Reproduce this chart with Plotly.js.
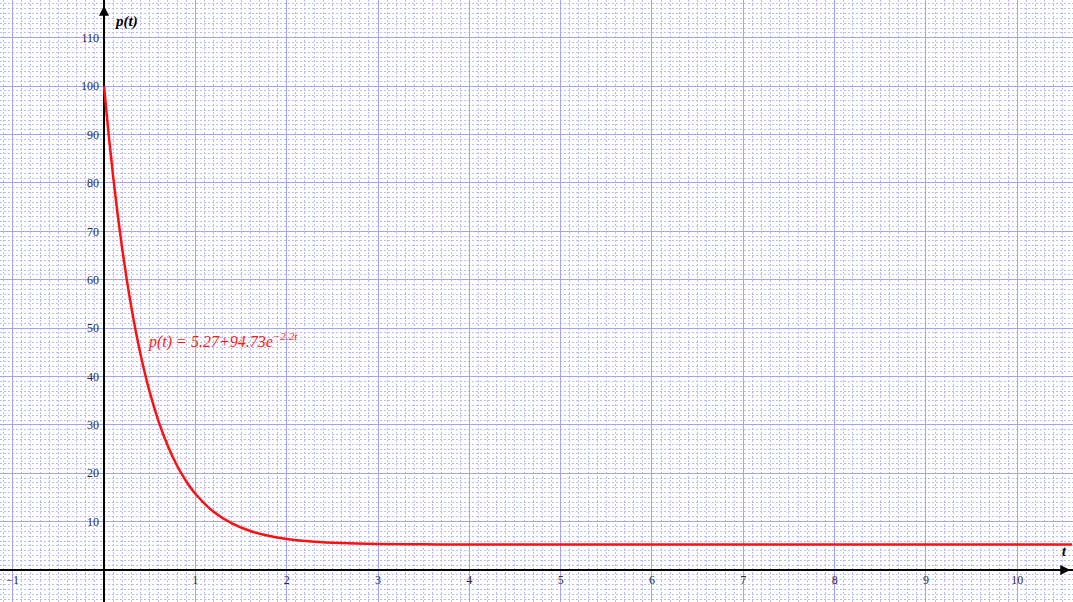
<!DOCTYPE html>
<html>
<head>
<meta charset="utf-8">
<script src="https://cdn.plot.ly/plotly-3.0.1.min.js"></script>
<style>html,body{margin:0;padding:0;background:#fff;}#chart{width:1073px;height:602px;}</style>
</head>
<body>
<div id="chart"></div>
<script>
// Curve values
const tValues = [0, 0.05, 0.1, 0.15, 0.2, 0.25, 0.3, 0.35, 0.4, 0.45, 0.5, 0.6, 0.7, 0.8, 0.9, 1.0, 1.2, 1.4, 1.6, 1.8, 2.0, 2.3, 2.6, 3.0, 3.5, 4, 5, 6, 7, 8, 9, 10, 10.6];
const pValues = [100, 90.13, 81.29, 73.37, 66.28, 59.92, 54.23, 49.13, 44.56, 40.47, 36.81, 30.57, 25.58, 21.56, 18.35, 15.77, 12.03, 9.63, 8.07, 7.08, 6.43, 5.87, 5.58, 5.40, 5.31, 5.28, 5.27, 5.27, 5.27, 5.27, 5.27, 5.27, 5.27];

const xTickVals = [-1, 1, 2, 3, 4, 5, 6, 7, 8, 9, 10];
const yTickVals = [10, 20, 30, 40, 50, 60, 70, 80, 90, 100, 110];
const equationText = 'p(t) = 5.27+94.73e<sup>−2.2t</sup>';
const yLabel = 'p(t)';
const tLabel = 't';

const xRange = [-1.139, 10.61];
const yRange = [-6.6, 117.8];
const xZeroFrac = (0 - xRange[0]) / (xRange[1] - xRange[0]);
const yZeroFrac = (0 - yRange[0]) / (yRange[1] - yRange[0]);

const majorGrid = '#a4a4f2';
const minorGrid = '#bcbcf6';
const serif = 'Liberation Serif, Times New Roman, serif';
const tickFont = {family: serif, size: 12, color: '#2a2a40'};

const trace = {
  x: tValues, y: pValues, type: 'scatter', mode: 'lines',
  line: {color: '#ff1010', width: 2.5, shape: 'spline'},
  hoverinfo: 'skip'
};

const layout = {
  width: 1073, height: 602,
  margin: {l: 0, r: 0, t: 0, b: 0},
  paper_bgcolor: '#ffffff', plot_bgcolor: '#ffffff',
  showlegend: false,
  xaxis: {
    range: xRange, anchor: 'free', position: yZeroFrac,
    tickvals: xTickVals, ticks: '', ticklabelstandoff: 1,
    tickfont: tickFont,
    showgrid: true, gridcolor: majorGrid, gridwidth: 1,
    minor: {dtick: 0.1, tick0: 0, showgrid: true, gridcolor: minorGrid, gridwidth: 1, griddash: '2px,2px'},
    zeroline: true, zerolinecolor: '#000000', zerolinewidth: 2,
    showline: false, fixedrange: true
  },
  yaxis: {
    range: yRange, anchor: 'free', position: xZeroFrac,
    tickvals: yTickVals, ticks: '', ticklabelstandoff: 5,
    tickfont: tickFont,
    showgrid: true, gridcolor: majorGrid, gridwidth: 1,
    minor: {dtick: 1, tick0: 0, showgrid: true, gridcolor: minorGrid, gridwidth: 1, griddash: '2px,2px'},
    zeroline: true, zerolinecolor: '#000000', zerolinewidth: 2,
    showline: false, fixedrange: true
  },
  annotations: [
    {x: 0, y: 116.6, ax: 0, ay: 100, xref: 'x', yref: 'y', axref: 'x', ayref: 'y',
     showarrow: true, arrowhead: 2, arrowsize: 1, arrowwidth: 2, arrowcolor: '#000000', text: ''},
    {x: 10.58, y: 0, ax: 9, ay: 0, xref: 'x', yref: 'y', axref: 'x', ayref: 'y',
     showarrow: true, arrowhead: 2, arrowsize: 1, arrowwidth: 2, arrowcolor: '#000000', text: ''},
    {x: 0.24, y: 113.4, xref: 'x', yref: 'y', showarrow: false, text: '<b><i>' + yLabel + '</i></b>',
     font: {family: serif, size: 15, color: '#000000'}},
    {x: 10.52, y: 3.8, xref: 'x', yref: 'y', showarrow: false, text: '<b><i>' + tLabel + '</i></b>',
     font: {family: serif, size: 14, color: '#000000'}},
    {x: 0.46, y: 47.5, xref: 'x', yref: 'y', xanchor: 'left', showarrow: false, text: '<i>' + equationText + '</i>',
     font: {family: serif, size: 16, color: '#ff1a1a'}}
  ]
};

Plotly.newPlot('chart', [trace], layout, {displayModeBar: false, staticPlot: true});
</script>
</body>
</html>
